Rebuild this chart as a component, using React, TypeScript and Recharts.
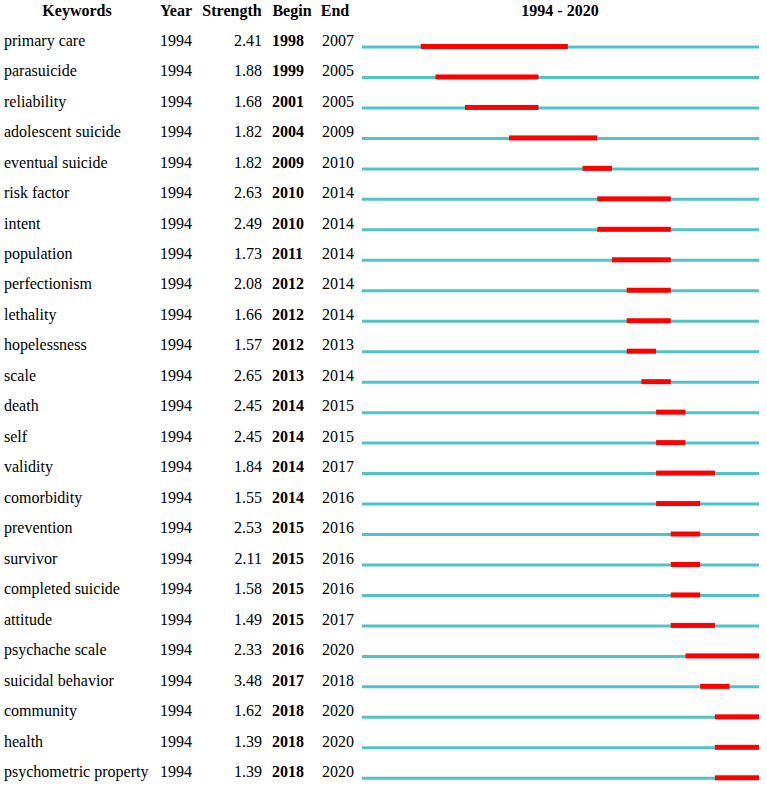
import React from 'react';
import { BarChart, Bar, XAxis, YAxis } from 'recharts';

// burst table values
const keywords = [
  'primary care', 'parasuicide', 'reliability', 'adolescent suicide', 'eventual suicide',
  'risk factor', 'intent', 'population', 'perfectionism', 'lethality',
  'hopelessness', 'scale', 'death', 'self', 'validity',
  'comorbidity', 'prevention', 'survivor', 'completed suicide', 'attitude',
  'psychache scale', 'suicidal behavior', 'community', 'health', 'psychometric property',
];
const years = [
  1994, 1994, 1994, 1994, 1994, 1994, 1994, 1994, 1994, 1994, 1994, 1994, 1994,
  1994, 1994, 1994, 1994, 1994, 1994, 1994, 1994, 1994, 1994, 1994, 1994,
];
const strengths = [
  '2.41', '1.88', '1.68', '1.82', '1.82', '2.63', '2.49', '1.73', '2.08', '1.66',
  '1.57', '2.65', '2.45', '2.45', '1.84', '1.55', '2.53', '2.11', '1.58', '1.49',
  '2.33', '3.48', '1.62', '1.39', '1.39',
];
const begins = [
  1998, 1999, 2001, 2004, 2009, 2010, 2010, 2011, 2012, 2012, 2012, 2013, 2014,
  2014, 2014, 2014, 2015, 2015, 2015, 2015, 2016, 2017, 2018, 2018, 2018,
];
const ends = [
  2007, 2005, 2005, 2009, 2010, 2014, 2014, 2014, 2014, 2014, 2013, 2014, 2015,
  2015, 2017, 2016, 2016, 2016, 2016, 2017, 2020, 2018, 2020, 2020, 2020,
];
const firstYear = 1994;
const lastYear = 2020;

const LINE_COLOR = '#4fc4c8';
const BURST_COLOR = '#ff0000';
const FONT = '"Liberation Serif", "Times New Roman", serif';

// bars are ranged: a year covers [year, year + 1)
const data = keywords.map((keyword, i) => ({
  keyword,
  span: [firstYear, lastYear + 1],
  burst: [begins[i], ends[i] + 1],
}));

const RowTick = (props: any) => {
  const { y, payload } = props;
  const i = payload.index;
  const base = y - 1;
  return (
    <g fontFamily={FONT} fontSize={16} fill="#000">
      <text x={4} y={base} textAnchor="start">{keywords[i]}</text>
      <text x={160} y={base} textAnchor="start">{years[i]}</text>
      <text x={262} y={base} textAnchor="end">{strengths[i]}</text>
      <text x={272} y={base} textAnchor="start" fontWeight="bold">{begins[i]}</text>
      <text x={322} y={base} textAnchor="start">{ends[i]}</text>
    </g>
  );
};

// burst bar nudged up a little so its bottom sits near the timeline's bottom
const BurstShape = (props: any) => {
  const { x, y, width, height } = props;
  return <rect x={x} y={y - 0.5} width={width} height={height} fill={BURST_COLOR} />;
};

const App = () => {
  return (
    <div style={{ position: 'absolute', left: 0, top: 0, width: 767, height: 786, overflow: 'hidden', background: '#fff' }}>
      <svg width={767} height={24} style={{ position: 'absolute', left: 0, top: 0 }}>
        <g fontFamily={FONT} fontSize={16} fontWeight="bold" fill="#000" textAnchor="middle">
          <text x={77} y={16}>Keywords</text>
          <text x={176} y={16}>Year</text>
          <text x={232} y={16}>Strength</text>
          <text x={292} y={16}>Begin</text>
          <text x={335} y={16}>End</text>
          <text x={560} y={16}>{`${firstYear} - ${lastYear}`}</text>
        </g>
      </svg>
      <div style={{ position: 'absolute', left: 0, top: 0 }}>
        <BarChart
          layout="vertical"
          width={767}
          height={794}
          data={data}
          margin={{ top: 31.5, right: 8, bottom: 0.75, left: 0 }}
        >
          <XAxis type="number" domain={[firstYear, lastYear + 1]} hide />
          <YAxis
            yAxisId="line"
            type="category"
            dataKey="keyword"
            width={362}
            interval={0}
            axisLine={false}
            tickLine={false}
            tick={<RowTick />}
          />
          <YAxis yAxisId="burst" type="category" dataKey="keyword" hide />
          <Bar yAxisId="line" dataKey="span" barSize={3} fill={LINE_COLOR} isAnimationActive={false} />
          <Bar yAxisId="burst" dataKey="burst" barSize={5} shape={<BurstShape />} isAnimationActive={false} />
        </BarChart>
      </div>
    </div>
  );
};

export default App;
